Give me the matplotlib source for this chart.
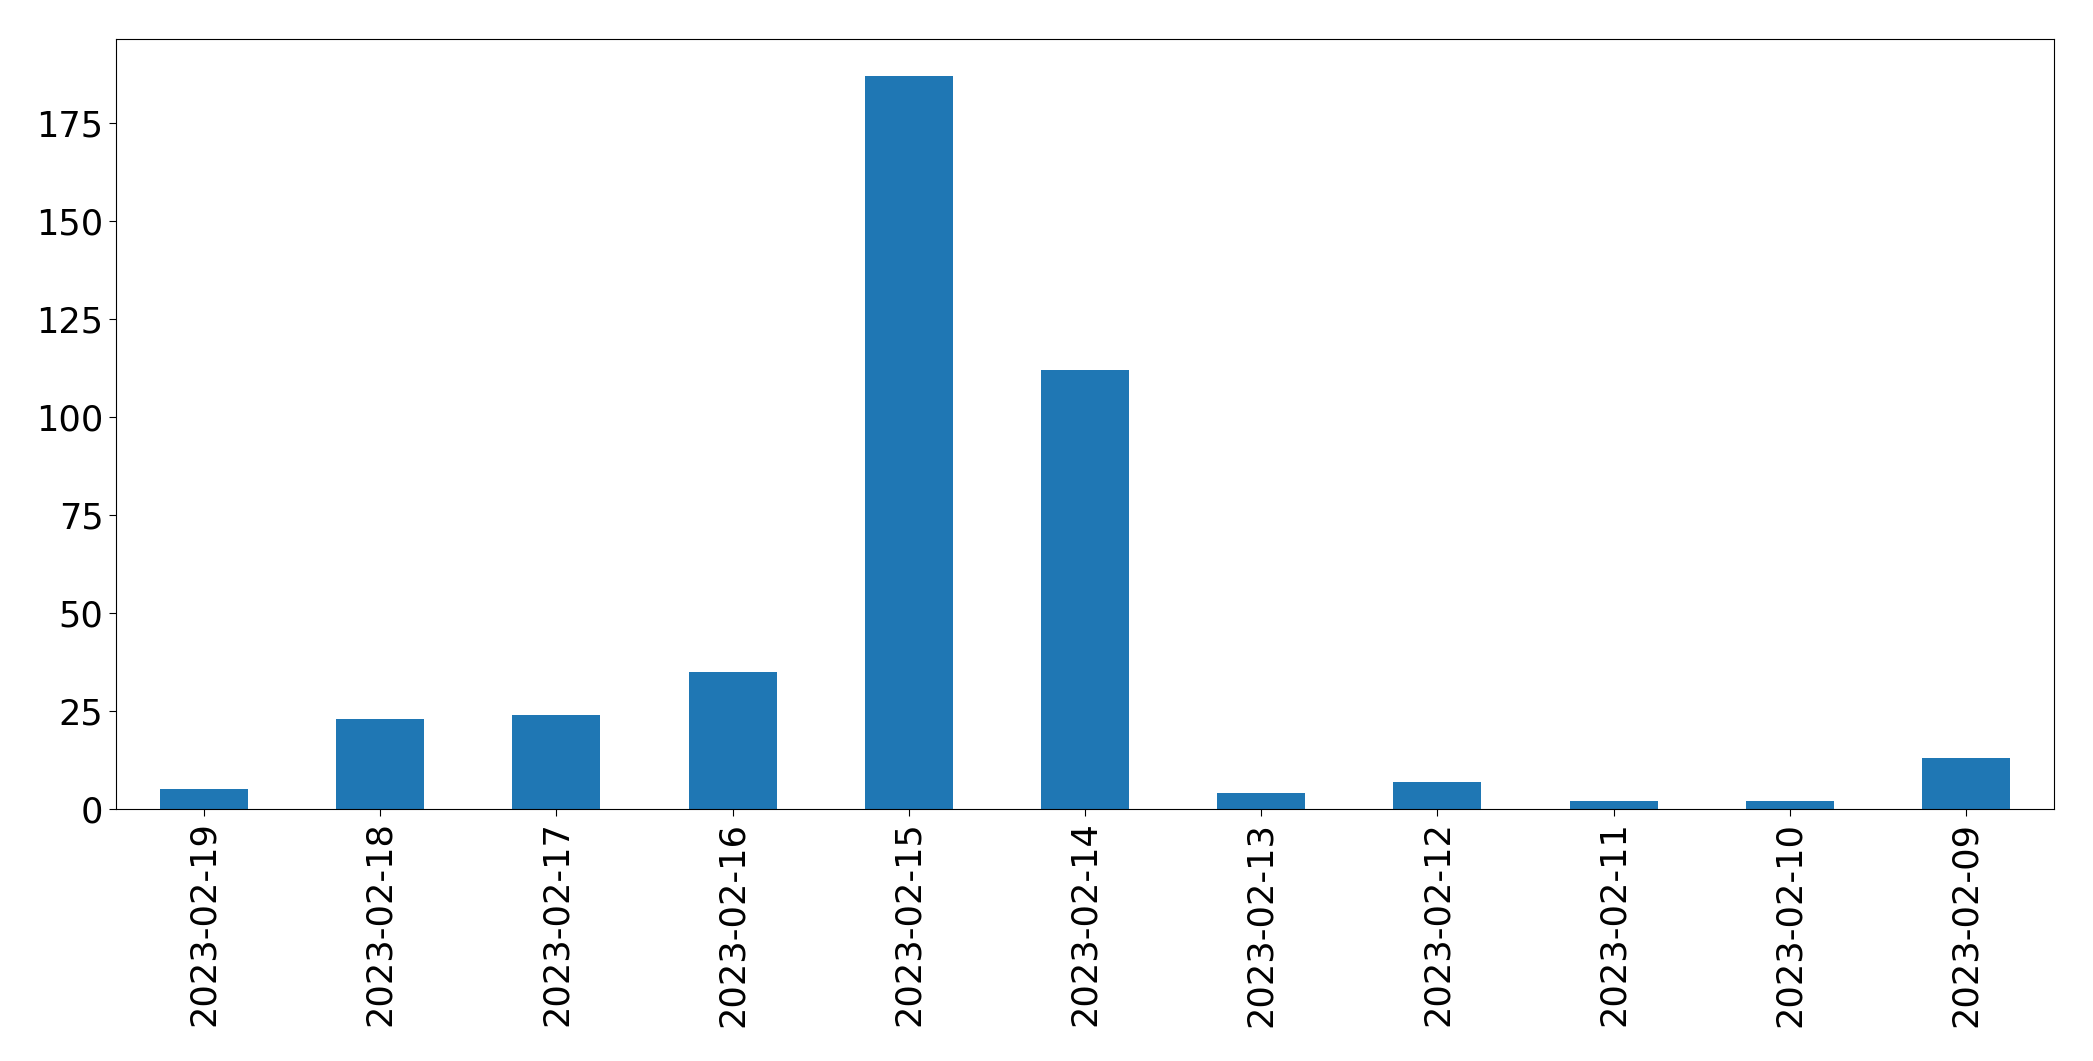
import matplotlib
matplotlib.use('Agg')
import matplotlib.pyplot as plt
import pandas as pd

# daily counts, newest first
dates = ['2023-02-19', '2023-02-18', '2023-02-17', '2023-02-16', '2023-02-15',
         '2023-02-14', '2023-02-13', '2023-02-12', '2023-02-11', '2023-02-10',
         '2023-02-09']
counts = [5, 23, 24, 35, 187, 112, 4, 7, 2, 2, 13]

s = pd.Series(counts, index=dates)

fig = plt.figure(figsize=(20.93, 10.61), dpi=100)
ax = fig.add_axes([0.0554, 0.2375, 0.926, 0.7255])
s.plot(kind='bar', ax=ax, color='#1f77b4', rot=90)
ax.tick_params(axis='both', labelsize=25.3, length=5, pad=4)
plt.savefig('out.png', dpi=100)
